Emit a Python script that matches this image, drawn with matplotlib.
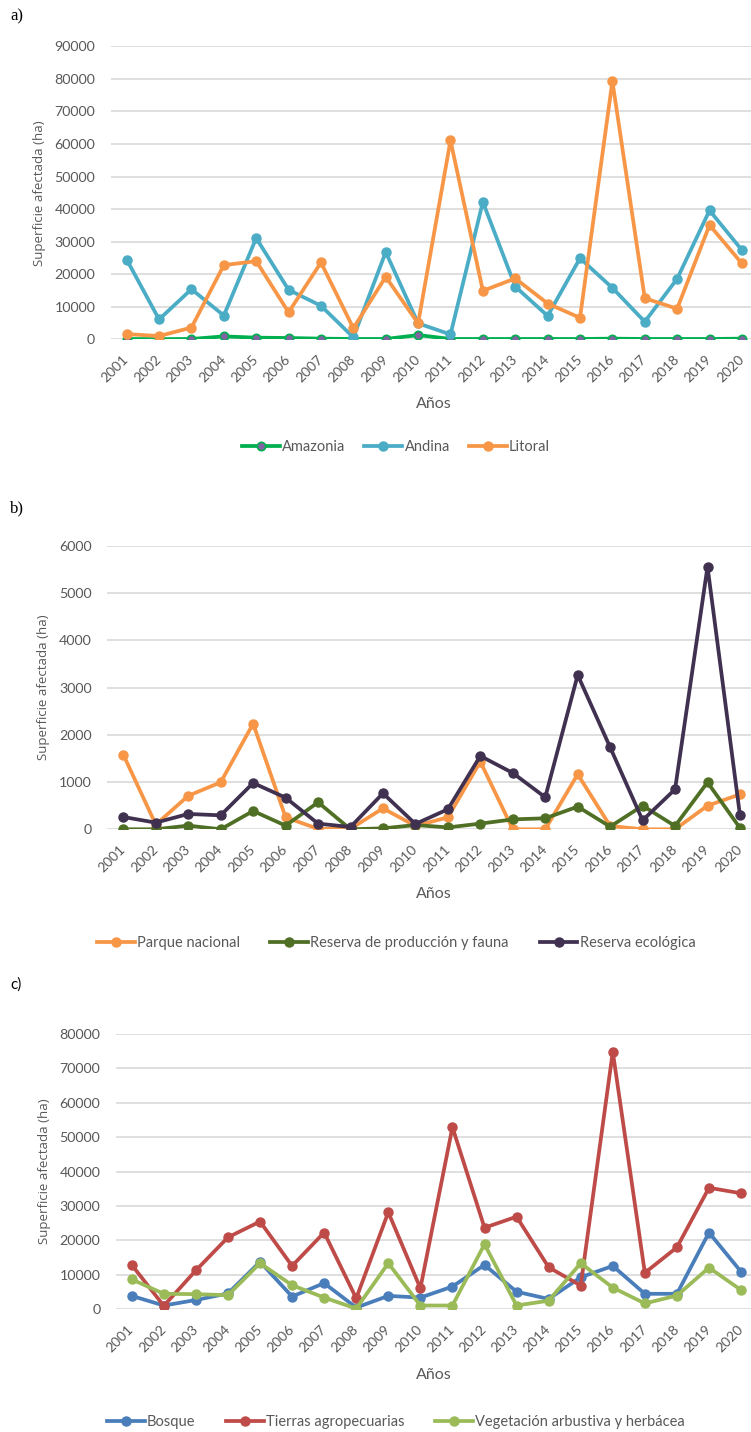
import matplotlib
matplotlib.use("Agg")
import matplotlib.pyplot as plt

# ---------------- data ----------------
years = [str(y) for y in range(2001, 2021)]

# a) Regions
amazonia = [100, 50, 100, 900, 500, 400, 200, 100, 100, 1300, 100, 100, 100, 100, 100, 200, 100, 100, 100, 200]
andina = [24500, 6100, 15400, 7300, 31100, 15200, 10300, 600, 26800, 4900, 1500, 42200, 16200, 7200, 24900, 15800, 5400, 18600, 39600, 27400]
litoral = [1600, 1000, 3600, 22800, 24000, 8300, 23600, 3400, 19200, 4900, 61100, 14900, 18700, 11000, 6600, 79300, 12600, 9400, 35100, 23300]

# b) Protected areas
parque_nacional = [1580, 100, 710, 995, 2238, 254, 10, 10, 445, 70, 254, 1433, 0, 0, 1165, 70, 0, 0, 500, 740]
reserva_produccion = [0, 0, 78, 0, 388, 78, 572, 0, 20, 90, 40, 120, 210, 233, 480, 56, 500, 70, 995, 28]
reserva_ecologica = [261, 141, 325, 296, 981, 670, 120, 49, 762, 113, 424, 1553, 1193, 678, 3268, 1736, 190, 847, 5562, 296]

# c) Land cover
bosque = [3900, 1100, 2700, 4600, 13800, 3700, 7600, 500, 3900, 3400, 6600, 12900, 5100, 3000, 9300, 12600, 4500, 4500, 22300, 10900]
tierras = [12900, 1000, 11300, 20900, 25500, 12600, 22300, 3200, 28200, 6100, 52900, 23700, 26900, 12200, 6900, 74800, 10600, 18000, 35300, 33700]
vegetacion = [8700, 4500, 4400, 4100, 13400, 7000, 3400, 200, 13400, 1100, 1100, 18900, 1100, 2500, 13400, 6300, 1700, 4000, 12100, 5600]

# ---------------- figure ----------------
W, H = 751, 1432
fig = plt.figure(figsize=(W / 100, H / 100), dpi=100)

TICK_C = "#595959"
GRID_C = "#D9D9D9"
TICK_FONT = "Lato"
TITLE_FONT = "Open Sans"


def make_axes(left, right, top, bottom):
    return fig.add_axes([left / W, 1 - bottom / H, (right - left) / W, (bottom - top) / H])


def style(ax, ymax, ystep, xlab_y, ylab_x, leg_y, leg_x, handles_labels, colsp):
    ax.set_xlim(-0.5, len(years) - 0.5)
    ax.set_ylim(0, ymax)
    ax.set_yticks(range(0, ymax + 1, ystep))
    ax.set_xticks(range(len(years)))
    ax.set_xticklabels(years, rotation=45, ha="right", va="center", rotation_mode="anchor")
    for s in ax.spines.values():
        s.set_visible(False)
    ax.grid(axis="y", color=GRID_C, linewidth=1.2)
    ax.set_axisbelow(True)
    ax.tick_params(axis="both", length=0, colors=TICK_C)
    ax.tick_params(axis="y", pad=11, labelsize=10.3)
    ax.tick_params(axis="x", pad=13, labelsize=10)
    for lab in ax.get_xticklabels() + ax.get_yticklabels():
        lab.set_fontfamily(TICK_FONT)
    ax.set_xlabel("Años", fontsize=11.5, color=TICK_C, fontfamily=TICK_FONT)
    ax.xaxis.set_label_coords(434 / W, 1 - xlab_y / H, transform=fig.transFigure)
    ax.xaxis.label.set_va("center")
    ax.set_ylabel("Superficie afectada (ha)", fontsize=9.5, color=TICK_C, fontfamily=TITLE_FONT)
    ax.yaxis.set_label_coords(ylab_x / W, 0.5 * (ax.get_position().y0 + ax.get_position().y1),
                              transform=fig.transFigure)
    ax.yaxis.label.set_va("center")
    h, l = handles_labels
    fig.legend(h, l, loc="center", bbox_to_anchor=(leg_x / W, 1 - leg_y / H), ncol=3,
               frameon=False, handlelength=2.6, handletextpad=0.15, columnspacing=colsp,
               prop={"family": TICK_FONT, "size": 10.5}, labelcolor=TICK_C)


LW = 2.7
MS = 6.5
x = list(range(len(years)))

# ---- a)
ax1 = make_axes(110.5, 758.1, 46.4, 339.3)
ax1.plot(x, amazonia, color="#00B050", lw=LW, marker="o", ms=MS - 0.5, mfc="#8064A2", mec="#00B050", mew=1.2, label="Amazonia")
ax1.plot(x, andina, color="#4BACC6", lw=LW, marker="o", ms=MS, label="Andina")
ax1.plot(x, litoral, color="#F79646", lw=LW, marker="o", ms=MS, label="Litoral")
style(ax1, 90000, 10000, 404, 40, 447, 396, ax1.get_legend_handles_labels(), 1.3)

# ---- b)
ax2 = make_axes(107.1, 756.2, 546, 829.3)
ax2.plot(x, parque_nacional, color="#F79646", lw=LW, marker="o", ms=MS, label="Parque nacional")
ax2.plot(x, reserva_produccion, color="#4F6F25", lw=LW, marker="o", ms=MS, label="Reserva de producción y fauna")
ax2.plot(x, reserva_ecologica, color="#403151", lw=LW, marker="o", ms=MS, label="Reserva ecológica")
style(ax2, 6000, 1000, 894, 44, 943, 396, ax2.get_legend_handles_labels(), 2.1)

# ---- c)
ax3 = make_axes(115.7, 757.1, 1033.9, 1309.3)
ax3.plot(x, bosque, color="#4A7EBB", lw=LW, marker="o", ms=MS, label="Bosque")
ax3.plot(x, tierras, color="#BE4B48", lw=LW, marker="o", ms=MS, label="Tierras agropecuarias")
ax3.plot(x, vegetacion, color="#9BBB59", lw=LW, marker="o", ms=MS, label="Vegetación arbustiva y herbácea")
style(ax3, 80000, 10000, 1375, 45, 1422, 396, ax3.get_legend_handles_labels(), 2.1)

# panel letters
fig.text(10 / W, 1 - 16 / H, "a)", fontsize=12, fontfamily="Liberation Serif", va="center", ha="left")
fig.text(10 / W, 1 - 508 / H, "b)", fontsize=12, fontfamily="Liberation Serif", va="center", ha="left")
fig.text(10 / W, 1 - 985 / H, "c)", fontsize=11, fontfamily="Lato", va="center", ha="left")

fig.savefig("out.png", dpi=100, facecolor="white")
